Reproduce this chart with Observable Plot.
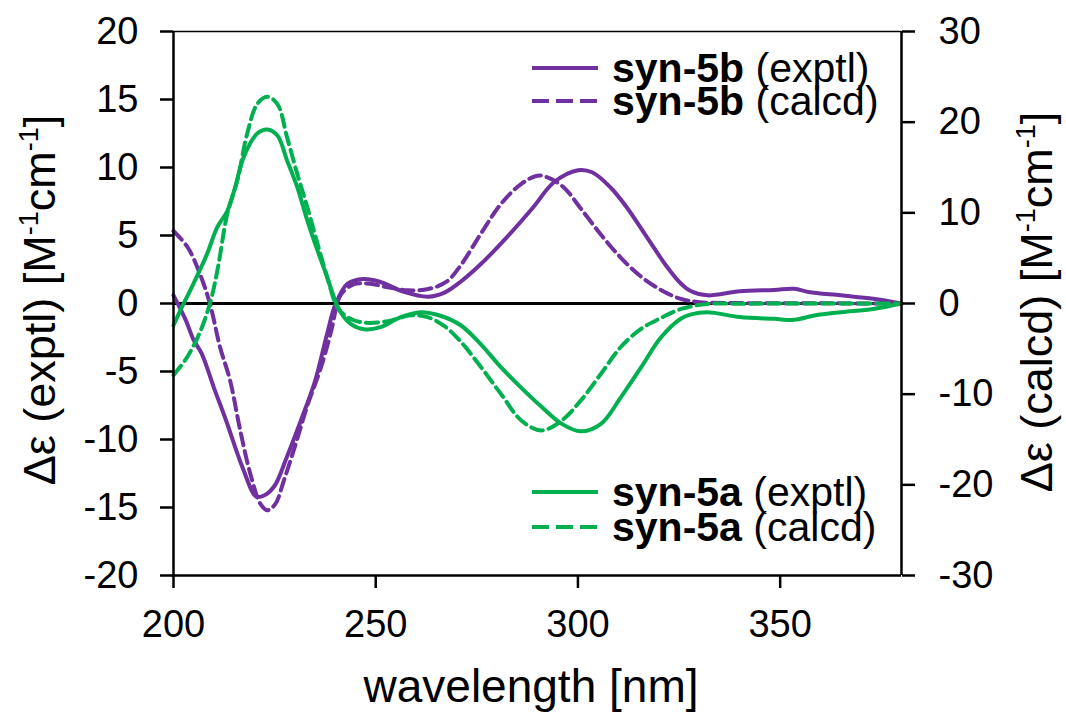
<!DOCTYPE html>
<html>
<head>
<meta charset="utf-8">
<script src="https://cdn.jsdelivr.net/npm/d3@7"></script>
<script src="https://cdn.jsdelivr.net/npm/@observablehq/plot@0.6"></script>
<style>
  html, body { margin: 0; padding: 0; background: #fff; }
  #chart { width: 1066px; height: 717px; }
</style>
</head>
<body>
<div id="chart"></div>
<script>
// syn-5b experimental (left axis units)
const b_exptl_nm = [200, 203, 205, 207, 210, 213, 217, 220.5, 222.5, 225, 228, 231.5, 235, 238, 240, 243, 247, 251, 257, 263, 267, 271, 276, 282.5, 289, 294, 300, 303.5, 308, 312, 317, 322, 325.5, 328, 332, 340, 348.5, 353.5, 357, 365, 373, 380];
const b_exptl_de = [0.6, -1.2, -2.7, -3.7, -6.2, -8.6, -12.0, -14.2, -14.1, -13.4, -11.3, -8.6, -5.7, -2.2, -0.1, 1.45, 1.8, 1.6, 0.85, 0.5, 0.8, 1.6, 2.9, 4.9, 7.1, 8.9, 9.8, 9.65, 8.55, 7.1, 4.9, 2.7, 1.45, 0.9, 0.6, 0.9, 1.0, 1.08, 0.85, 0.6, 0.35, 0.0];
// syn-5b calculated (right axis units)
const b_calcd_nm = [200, 203.5, 206.5, 209, 211.5, 214, 216.5, 219, 221.5, 223.2, 225.2, 227.3, 230, 233, 236.5, 239, 240.5, 241.5, 244.5, 248, 253, 258, 263, 267.5, 271, 276, 281, 286, 290, 292.5, 296.5, 300.5, 305.5, 310.5, 315.5, 320.5, 325.5, 330, 340, 360, 380];
const b_calcd_de = [8.0, 6.2, 3.3, 0, -4.8, -8.5, -14, -18.8, -22.1, -22.8, -22.1, -19.5, -15.8, -11.4, -7.0, -3.0, 0, 1.07, 2.1, 2.2, 1.8, 1.45, 1.6, 2.4, 4.2, 7.7, 11.0, 13.2, 14.1, 13.9, 12.8, 10.6, 7.7, 5.1, 3.0, 1.5, 0.5, 0.15, 0.05, 0.02, 0];
// syn-5a experimental (left axis units)
const a_exptl_nm = [200, 201.7, 205, 208.3, 210.8, 213.3, 215, 217.4, 220.7, 223.2, 225.7, 228.1, 230.6, 233.1, 235.6, 238, 240, 241.3, 243.8, 247.1, 251.2, 256.2, 261.1, 266, 271, 276, 281, 286, 291, 296, 300.7, 305.7, 310.6, 315.6, 320.5, 325.5, 328, 332, 340, 348.5, 353.5, 358.5, 365, 373, 380];
const a_exptl_de = [-1.6, -0.5, 1.5, 3.65, 5.6, 6.8, 8.3, 10.8, 12.5, 12.8, 12.35, 10.5, 8.55, 6.1, 3.9, 1.93, 0.2, -0.64, -1.5, -1.9, -1.74, -1.0, -0.64, -0.9, -1.6, -3.0, -4.7, -6.2, -7.6, -8.85, -9.4, -8.85, -6.9, -4.7, -2.5, -1.1, -0.8, -0.64, -1.0, -1.13, -1.2, -0.88, -0.64, -0.4, 0];
// syn-5a calculated (right axis units)
const a_calcd_nm = [200, 203.4, 206.7, 209.2, 211, 213.3, 215.8, 218.2, 220.7, 223.2, 225.7, 228.1, 230.6, 233.1, 235.6, 238, 240.5, 243, 247, 253, 258.7, 262.8, 267, 271, 276, 281, 286, 291, 296, 300.7, 305.7, 310.6, 315.6, 320.5, 325.5, 332, 340, 360, 380];
const a_calcd_de = [-7.9, -5.9, -3.0, 0.3, 4.0, 9.9, 13.6, 18.7, 22.0, 22.8, 22.0, 18.3, 14.3, 10.6, 6.6, 2.9, -0.4, -1.5, -2.1, -1.95, -1.3, -1.5, -2.5, -4.2, -7.0, -10.0, -12.9, -14.0, -12.9, -10.7, -7.75, -4.8, -2.8, -1.6, -0.6, -0.05, -0.02, -0.01, 0];

const xTicks = [200, 250, 300, 350];
const leftTicks = [-20, -15, -10, -5, 0, 5, 10, 15, 20];
const rightTicks = [-30, -20, -10, 0, 10, 20, 30];

const purple = "#7030A0";
const green = "#00B050";
const ratio = 20 / 30; // right-axis units -> left-axis units

const toRows = (nm, de, k = 1) => nm.map((w, i) => ({w, v: de[i] * k}));

const FONT = "Liberation Sans, Arial, sans-serif";
const TICK_FS = 38;
const LW = 4;
const DASH = "12,6";

const plot = Plot.plot({
  width: 1066,
  height: 717,
  marginLeft: 173,
  marginRight: 165,
  marginTop: 31,
  marginBottom: 142,
  style: {fontFamily: FONT, background: "white", color: "black"},
  x: {domain: [200, 380]},
  y: {domain: [-20, 20]},
  marks: [
    Plot.ruleY([0], {stroke: "black", strokeWidth: 3}),
    Plot.line(toRows(b_exptl_nm, b_exptl_de), {x: "w", y: "v", stroke: purple, strokeWidth: LW, curve: "catmull-rom"}),
    Plot.line(toRows(b_calcd_nm, b_calcd_de, ratio), {x: "w", y: "v", stroke: purple, strokeWidth: LW, strokeDasharray: DASH, curve: "catmull-rom"}),
    Plot.line(toRows(a_exptl_nm, a_exptl_de), {x: "w", y: "v", stroke: green, strokeWidth: LW, curve: "catmull-rom"}),
    Plot.line(toRows(a_calcd_nm, a_calcd_de, ratio), {x: "w", y: "v", stroke: green, strokeWidth: LW, strokeDasharray: DASH, curve: "catmull-rom"}),
    Plot.ruleX([200, 380], {stroke: "black", strokeWidth: 2.5}),
    Plot.ruleY([-20], {stroke: "black", strokeWidth: 2.5}),
    Plot.ruleY([20], {stroke: "black", strokeWidth: 1.5}),
    Plot.axisX({ticks: xTicks, tickSize: 13, tickPadding: 22, strokeWidth: 2.5, fontSize: TICK_FS, label: null, tickFormat: d => String(d)}),
    Plot.axisY({ticks: leftTicks, tickSize: 13, tickPadding: 22, strokeWidth: 2.5, fontSize: TICK_FS, label: null, tickFormat: d => String(d)}),
    Plot.axisY({anchor: "right", ticks: rightTicks.map(v => v * ratio), tickSize: 13, tickPadding: 24, strokeWidth: 2.5, fontSize: TICK_FS, label: null, tickFormat: d => String(Math.round(d / ratio))})
  ]
});

document.getElementById("chart").appendChild(plot);

const svg = d3.select(plot);

// axis titles with superscripts
function addTitle(tx, ty, main) {
  const t = svg.append("text")
    .attr("transform", `translate(${tx},${ty}) rotate(-90)`)
    .attr("text-anchor", "middle")
    .attr("font-family", FONT)
    .attr("font-size", 45)
    .attr("fill", "black");
  t.append("tspan").text(main + " [M");
  t.append("tspan").attr("font-size", 27).attr("dy", -17).text("-1");
  t.append("tspan").attr("dy", 17).text("cm");
  t.append("tspan").attr("font-size", 27).attr("dy", -17).text("-1");
  t.append("tspan").attr("dy", 17).text("]");
}
addTitle(55, 300, "Δε (exptl)");
addTitle(1052, 302, "Δε (calcd)");

svg.append("text")
  .attr("transform", "translate(531,702)")
  .attr("text-anchor", "middle")
  .attr("font-family", FONT)
  .attr("font-size", 46)
  .attr("fill", "black")
  .text("wavelength [nm]");

// legend
const legendItems = [
  {y: 68, color: purple, dash: null, name: "syn-5b", kind: "(exptl)"},
  {y: 101, color: purple, dash: "17,7", name: "syn-5b", kind: "(calcd)"},
  {y: 492, color: green, dash: null, name: "syn-5a", kind: "(exptl)"},
  {y: 527, color: green, dash: "17,7", name: "syn-5a", kind: "(calcd)"}
];
for (const it of legendItems) {
  svg.append("line")
    .attr("x1", 532).attr("x2", 598).attr("y1", it.y).attr("y2", it.y)
    .attr("stroke", it.color).attr("stroke-width", 4)
    .attr("stroke-dasharray", it.dash);
  const t = svg.append("text")
    .attr("transform", `translate(612,${it.y + 14})`)
    .attr("text-anchor", "start")
    .attr("font-family", FONT)
    .attr("font-size", 41)
    .attr("fill", "black");
  t.append("tspan").attr("font-weight", "bold").text(it.name);
  t.append("tspan").text(" " + it.kind);
}
</script>
</body>
</html>
